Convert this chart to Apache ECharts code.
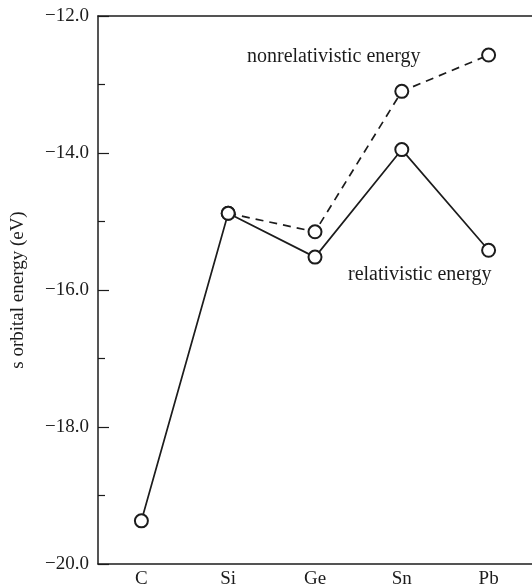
<!DOCTYPE html>
<html>
<head>
<meta charset="utf-8">
<script src="https://cdn.jsdelivr.net/npm/echarts@6/dist/echarts.min.js"></script>
<style>
  html, body { margin: 0; padding: 0; background: #fff; }
  #chart { width: 532px; height: 586px; }
</style>
</head>
<body>
<div id="chart"></div>
<script>
// group 14 elements and their s orbital energies (eV)
const elements = ['C', 'Si', 'Ge', 'Sn', 'Pb']
const relativistic = [-19.37, -14.88, -15.52, -13.95, -15.42]
const nonrelativistic = [null, -14.88, -15.15, -13.10, -12.57]
const yTicks = [-20, -18, -16, -14, -12]

const font = '"Liberation Serif", "DejaVu Serif", serif'
const ink = '#1c1c1c'

const chart = echarts.init(document.getElementById('chart'))

function lineSeries(name, values, dashed) {
  return {
    name,
    type: 'line',
    data: values,
    symbol: 'emptyCircle',
    symbolSize: 13,
    showAllSymbol: true,
    connectNulls: false,
    lineStyle: { color: ink, width: 1.7, type: dashed ? [8, 6] : 'solid' },
    itemStyle: { color: ink, borderColor: ink, borderWidth: 1.7 },
    emphasis: { disabled: true },
    z: dashed ? 2 : 3,
  }
}

chart.setOption({
  animation: false,
  backgroundColor: '#fff',
  textStyle: { fontFamily: font, color: ink },
  grid: { left: 98, right: 0, top: 16, bottom: 22, outerBoundsMode: 'none' },
  xAxis: [
    {
      type: 'category',
      data: elements,
      boundaryGap: true,
      axisLine: { lineStyle: { color: ink, width: 1.5 } },
      axisTick: { inside: true, alignWithLabel: true, length: 10, lineStyle: { color: ink, width: 1.2 } },
      axisLabel: { fontFamily: font, fontSize: 19, color: ink, margin: 6 },
      splitLine: { show: false },
    },
    {
      type: 'category',
      position: 'top',
      data: elements,
      axisLine: { lineStyle: { color: ink, width: 1.5 } },
      axisTick: { show: false },
      axisLabel: { show: false },
    },
  ],
  yAxis: {
    type: 'value',
    min: yTicks[0],
    max: yTicks[yTicks.length - 1],
    interval: 2,
    name: 's orbital energy (eV)',
    nameLocation: 'middle',
    nameRotate: 90,
    nameGap: 70,
    nameTextStyle: { fontFamily: font, fontSize: 19, color: ink },
    axisLine: { show: true, lineStyle: { color: ink, width: 1.5 } },
    axisTick: { show: true, inside: true, length: 11, lineStyle: { color: ink, width: 1.2 } },
    minorTick: { show: true, splitNumber: 2, length: 7, lineStyle: { color: ink, width: 1.2 } },
    axisLabel: {
      fontFamily: font,
      fontSize: 19,
      color: ink,
      margin: 9,
      formatter: (v) => (v < 0 ? '\u2212' : '') + Math.abs(v).toFixed(1),
    },
    splitLine: { show: false },
  },
  graphic: [
    {
      type: 'text',
      left: 247,
      top: 47,
      style: { text: 'nonrelativistic energy', font: '20px ' + font, fill: ink },
    },
    {
      type: 'text',
      left: 348,
      top: 265,
      style: { text: 'relativistic energy', font: '20px ' + font, fill: ink },
    },
  ],
  series: [
    lineSeries('nonrelativistic energy', nonrelativistic, true),
    lineSeries('relativistic energy', relativistic, false),
  ],
})
</script>
</body>
</html>
